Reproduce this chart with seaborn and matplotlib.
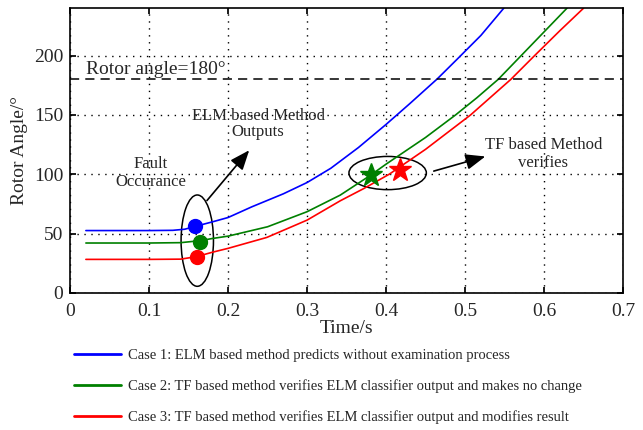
import matplotlib
matplotlib.use("Agg")
import matplotlib.pyplot as plt
from matplotlib.patches import Ellipse
import numpy as np
import pandas as pd
import seaborn as sns

# ---- data ----
blue_t = [0.02, 0.06, 0.10, 0.13, 0.145, 0.164, 0.18, 0.20, 0.23, 0.27, 0.30, 0.33, 0.365,
          0.40, 0.43, 0.465, 0.49, 0.52, 0.549]
blue_v = [52.5, 52.5, 52.5, 52.7, 53.6, 57, 59.8, 63.5, 72.5, 83.5, 93, 105, 122.5,
          142, 159.5, 180.5, 197, 217, 240]

green_t = [0.02, 0.06, 0.10, 0.14, 0.165, 0.18, 0.20, 0.25, 0.30, 0.342, 0.38, 0.40, 0.45,
           0.488, 0.515, 0.542, 0.571, 0.60, 0.629]
green_v = [42, 42, 42, 42.3, 44, 45.8, 47.8, 55.7, 68.4, 82.4, 99, 108.5, 131,
           150, 164.5, 180, 200, 220, 240]

red_t = [0.02, 0.06, 0.10, 0.14, 0.16, 0.18, 0.20, 0.249, 0.30, 0.342, 0.372, 0.404, 0.45,
         0.507, 0.558, 0.588, 0.62, 0.65]
red_v = [28.2, 28.2, 28.2, 28.4, 30.5, 34.2, 37.5, 46.7, 61.3, 77.6, 88, 100, 121,
         150, 180, 200, 221, 240]

case_labels = [
    "Case 1: ELM based method predicts without examination process",
    "Case 2: TF based method verifies ELM classifier output and makes no change",
    "Case 3: TF based method verifies ELM classifier output and modifies result",
]
case_colors = ["#0000ff", "#008000", "#ff0000"]

circle_t = [0.158, 0.165, 0.161]
circle_v = [56.5, 42.5, 29.9]
star_t = [0.381, 0.417]
star_v = [99.3, 103.5]
star_colors = ["#008000", "#ff0000"]

x_ticks = [0, 0.1, 0.2, 0.3, 0.4, 0.5, 0.6, 0.7]
y_ticks = [0, 50, 100, 150, 200]

# ---- style ----
sns.set_theme(style="ticks")
plt.rcParams["font.family"] = ["Liberation Serif", "DejaVu Serif"]
plt.rcParams["mathtext.fontset"] = "stix"

df = pd.concat([
    pd.DataFrame({"t": blue_t, "v": blue_v, "case": case_labels[0]}),
    pd.DataFrame({"t": green_t, "v": green_v, "case": case_labels[1]}),
    pd.DataFrame({"t": red_t, "v": red_v, "case": case_labels[2]}),
])

fig = plt.figure(figsize=(6.43, 4.30), dpi=100)
ax = fig.add_axes([0.109, 0.319, 0.860, 0.662])

sns.lineplot(data=df, x="t", y="v", hue="case", palette=case_colors,
             ax=ax, linewidth=1.2, legend=False, sort=True)

# 180 deg line
ax.axhline(180, color="black", linestyle=(0, (6, 4)), linewidth=1.1)
ax.text(0.02, 181, "Rotor angle=180°", fontsize=14, ha="left", va="bottom")

# circles
for t, v, c in zip(circle_t, circle_v, case_colors):
    ax.plot(t, v, "o", color=c, markersize=10, zorder=5)
# stars
for t, v, c in zip(star_t, star_v, star_colors):
    ax.plot(t, v, "*", color=c, markersize=17, zorder=5)

# ellipses
ax.add_patch(Ellipse((0.161, 44), 0.041, 77, fill=False, edgecolor="black", linewidth=1.1))
ax.add_patch(Ellipse((0.402, 101), 0.098, 28, fill=False, edgecolor="black", linewidth=1.1))

# arrows
ax.annotate("", xy=(0.229, 122), xytext=(0.171, 76),
            arrowprops=dict(arrowstyle="-|>,head_length=1.0,head_width=0.4", color="black", lw=1.2))
ax.annotate("", xy=(0.529, 115.6), xytext=(0.457, 102),
            arrowprops=dict(arrowstyle="-|>,head_length=1.0,head_width=0.4", color="black", lw=1.2))

ax.text(0.238, 142.5, "ELM based Method\nOutputs", fontsize=12, ha="center", va="center", linespacing=1.0)
ax.text(0.1025, 101, "Fault\nOccurance", fontsize=12, ha="center", va="center", linespacing=1.1)
ax.text(0.599, 117, "TF based Method\nverifies", fontsize=12, ha="center", va="center", linespacing=1.1)

ax.set_xlim(0, 0.7)
ax.set_ylim(0, 240)
ax.set_xticks(x_ticks)
ax.set_xticklabels([f"{t:g}" for t in x_ticks])
ax.set_yticks(y_ticks)
ax.grid(True, color="black", linestyle=(0, (1, 4)), linewidth=1.0)
ax.tick_params(direction="in", length=4, labelsize=14, top=True, right=True, color="black")
ax.tick_params(axis="x", pad=7)
ax.tick_params(axis="y", pad=5)
for s in ax.spines.values():
    s.set_linewidth(1.2)
    s.set_color("black")
ax.set_xlabel("Time/s", fontsize=14, labelpad=0)
ax.set_ylabel("Rotor Angle/°", fontsize=14, labelpad=4)

# legend below
handles = [plt.Line2D([], [], color=c, linewidth=2) for c in case_colors]
fig.legend(handles, case_labels, loc="upper left", bbox_to_anchor=(0.106, 0.203),
           frameon=False, fontsize=10.5, handlelength=3.2, handletextpad=0.5,
           labelspacing=1.2, borderaxespad=0)

fig.savefig("out.png", dpi=100)
